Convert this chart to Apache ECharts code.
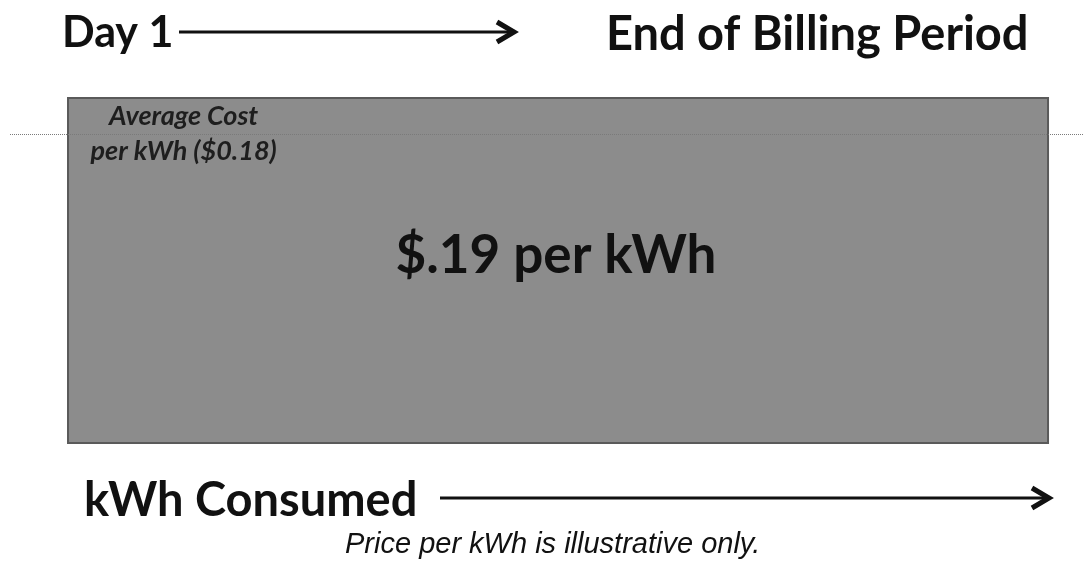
<!DOCTYPE html>
<html>
<head>
<meta charset="utf-8">
<script src="https://cdn.jsdelivr.net/npm/echarts@6/dist/echarts.min.js"></script>
<style>
  html, body { margin: 0; padding: 0; background: #fff; }
  #chart { width: 1084px; height: 576px; }
</style>
</head>
<body>
<div id="chart"></div>
<script>
// billing period as a share of kWh consumed (start -> end)
const periodRange = [0, 1]
// marginal price for every kWh in the period ($/kWh)
const periodPrice = [0.19, 0.19]
const averageCost = 0.18

const priceLabel = '$.19 per kWh'
const averageLabel = ['Average Cost', 'per kWh ($0.18)']
const topLabels = ['Day 1', 'End of Billing Period']
const bottomLabel = 'kWh Consumed'
const footnote = 'Price per kWh is illustrative only.'

const chart = echarts.init(document.getElementById('chart'))

const titleFont = (size) => ({ fontFamily: 'Lato', fontWeight: 'bold', fontSize: size, fill: '#111' })

// arrow = shaft + open head
const arrow = (x1, x2, y) => [
  { type: 'line', shape: { x1: x1, y1: y, x2: x2 - 3, y2: y }, style: { stroke: '#111', lineWidth: 3 } },
  { type: 'polyline', shape: { points: [[x2 - 17, y - 10], [x2, y], [x2 - 17, y + 10]] },
    style: { stroke: '#111', lineWidth: 5, fill: null, lineJoin: 'miter' } }
]

const option = {
  animation: false,
  grid: { left: 10, right: 0, top: 98, bottom: 133 },
  xAxis: {
    type: 'value',
    min: -0.0592,
    max: 1.0367,
    show: false
  },
  yAxis: {
    type: 'value',
    min: 0.094,
    max: 0.19,
    show: false
  },
  series: [
    {
      type: 'line',
      data: periodRange.map((x, i) => [x, periodPrice[i]]),
      symbol: 'none',
      lineStyle: { opacity: 0 },
      silent: true,
      markArea: {
        silent: true,
        itemStyle: { color: '#8c8c8c', borderColor: '#5a5a5a', borderWidth: 2 },
        label: {
          show: true,
          position: 'inside',
          offset: [-2, -15],
          formatter: priceLabel,
          fontFamily: 'Lato',
          fontWeight: 'bold',
          fontSize: 53,
          color: '#111'
        },
        data: [[
          { coord: [periodRange[0], 0.094] },
          { coord: [periodRange[1], periodPrice[1]] }
        ]]
      },
      markLine: {
        silent: true,
        symbol: 'none',
        label: { show: false },
        lineStyle: { color: '#7a7a7a', type: 'dotted', width: 1 },
        data: [{ yAxis: averageCost }]
      },
      markPoint: {
        silent: true,
        symbol: 'circle',
        symbolSize: 0,
        label: {
          show: true,
          position: 'inside',
          formatter: averageLabel.join('\n'),
          fontFamily: 'Lato',
          fontStyle: 'italic',
          fontWeight: 'bold',
          fontSize: 27,
          lineHeight: 35,
          align: 'center',
          color: '#1e1e1e'
        },
        data: [{ coord: [0.118, averageCost] }]
      }
    }
  ],
  graphic: [
    { type: 'text', left: 62, top: 12, style: Object.assign({ text: topLabels[0] }, titleFont(43)) },
    { type: 'text', left: 606, top: 11, style: Object.assign({ text: topLabels[1] }, titleFont(47)) },
    ...arrow(179, 514, 32),
    { type: 'text', left: 84, top: 477, style: Object.assign({ text: bottomLabel }, titleFont(47)) },
    ...arrow(440, 1049, 498),
    {
      type: 'text', left: 345, top: 530,
      style: { text: footnote, fontFamily: 'Liberation Sans', fontStyle: 'italic', fontSize: 29, fill: '#111' }
    }
  ]
}

chart.setOption(option)
</script>
</body>
</html>
